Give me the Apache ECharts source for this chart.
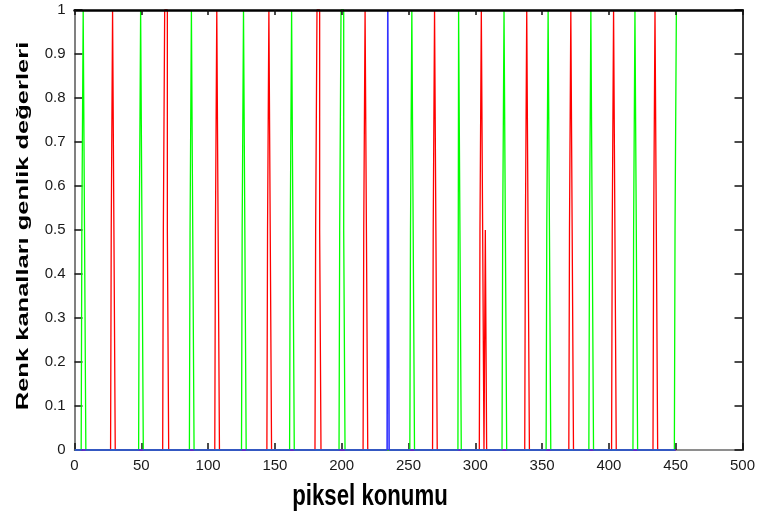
<!DOCTYPE html>
<html>
<head>
<meta charset="utf-8">
<script src="https://cdn.jsdelivr.net/npm/echarts@6/dist/echarts.min.js"></script>
<style>
  html, body { margin: 0; padding: 0; background: #ffffff; }
  #chart { width: 763px; height: 518px; }
</style>
</head>
<body>
<div id="chart"></div>
<script>
// Axis ticks
const xTicks = [0, 50, 100, 150, 200, 250, 300, 350, 400, 450, 500];
const yTicks = [0, 0.1, 0.2, 0.3, 0.4, 0.5, 0.6, 0.7, 0.8, 0.9, 1];

// Channel amplitudes along the pixel row: [pixel position, amplitude]
const redPoints = [
  [0, 0],
  [27, 0], [28, 0.5], [29, 1], [30, 0.5], [31, 0],
  [66, 0], [67, 0.5], [68, 1], [69, 1], [70, 0.5], [71, 0],
  [105, 0], [106, 0.5], [107, 1], [108, 0.5], [109, 0],
  [144, 0], [145, 0.5], [146, 1], [147, 0.5], [148, 0],
  [180, 0], [181, 0.5], [182, 1], [183, 1], [184, 0.5], [185, 0],
  [216, 0], [217, 0.5], [218, 1], [219, 0.5], [220, 0],
  [268, 0], [269, 0.5], [270, 1], [271, 0.5], [272, 0],
  [303, 0], [304, 0.5], [305, 1], [306, 0.5], [307, 0], [308, 0.5], [309, 0],
  [337, 0], [338, 0.5], [339, 1], [340, 0.5], [341, 0],
  [370, 0], [371, 0.5], [372, 1], [373, 0.5], [374, 0],
  [402, 0], [403, 0.5], [404, 1], [405, 0.5], [406, 0],
  [433, 0], [434, 0.5], [435, 1], [436, 0.5], [437, 0],
  [450, 0]
];

const greenPoints = [
  [0, 0],
  [5, 0], [6, 0.5], [7, 1], [8, 0.5], [9, 0],
  [48, 0], [49, 0.5], [50, 1], [51, 0.5], [52, 0],
  [86, 0], [87, 0.5], [88, 1], [89, 0.5], [90, 0],
  [125, 0], [126, 0.5], [127, 1], [128, 0.5], [129, 0],
  [161, 0], [162, 0.5], [163, 1], [164, 0.5], [165, 0],
  [198, 0], [199, 0.5], [200, 1], [201, 1], [202, 0.5], [203, 0],
  [251, 0], [252, 0.5], [253, 1], [254, 0.5], [255, 0],
  [287, 0], [288, 1], [289, 0.5], [290, 0],
  [320, 0], [321, 0.5], [322, 1], [323, 0.5], [324, 0],
  [353, 0], [354, 0.5], [355, 1], [356, 0.5], [357, 0],
  [385, 0], [386, 0.5], [387, 1], [388, 0.5], [389, 0],
  [418, 0], [419, 0.5], [420, 1], [421, 0.5], [422, 0],
  [449, 0], [450, 0.5], [451, 1]
];

const bluePoints = [
  [0, 0],
  [234, 0], [235, 1], [236, 0],
  [450, 0]
];

const xTitle = 'piksel konumu';
const yTitle = 'Renk kanalları genlik değerleri';

const chart = echarts.init(document.getElementById('chart'), null, { renderer: 'canvas' });

const labelFont = { fontFamily: '"Liberation Sans", Arial, sans-serif', fontSize: 15, color: '#1a1a1a' };

function channel(name, color, points, width) {
  return {
    name: name,
    type: 'line',
    step: 'middle',
    clip: false,
    xAxisIndex: 0,
    yAxisIndex: 0,
    data: points,
    showSymbol: false,
    symbol: 'none',
    animation: false,
    lineStyle: { color: color, width: width },
    emphasis: { disabled: true }
  };
}

chart.setOption({
  backgroundColor: '#ffffff',
  animation: false,
  grid: { left: 74.5, right: 20.5, top: 10, bottom: 68, containLabel: false },
  xAxis: [
    {
      type: 'value', position: 'bottom', min: xTicks[0], max: xTicks[xTicks.length - 1], interval: 50,
      axisLine: { show: true, onZero: false, lineStyle: { color: '#6a6a6a', width: 1.5 } },
      axisTick: { show: true, inside: true, length: 7, lineStyle: { color: '#111', width: 1.5 } },
      axisLabel: Object.assign({ margin: 8 }, labelFont),
      splitLine: { show: false }
    },
    {
      type: 'value', position: 'top', min: xTicks[0], max: xTicks[xTicks.length - 1], interval: 50, z: 5,
      axisLine: { show: true, onZero: false, lineStyle: { color: '#000', width: 2.5 } },
      axisTick: { show: true, inside: true, length: 5, lineStyle: { color: '#111', width: 1.5 } },
      axisLabel: { show: false },
      splitLine: { show: false }
    }
  ],
  yAxis: [
    {
      type: 'value', position: 'left', min: yTicks[0], max: yTicks[yTicks.length - 1], interval: 0.1,
      axisLine: { show: true, onZero: false, lineStyle: { color: '#808080', width: 2 } },
      axisTick: { show: true, inside: true, length: 8, lineStyle: { color: '#111', width: 1.5 } },
      axisLabel: Object.assign({ margin: 9 }, labelFont),
      splitLine: { show: false }
    },
    {
      type: 'value', position: 'right', min: yTicks[0], max: yTicks[yTicks.length - 1], interval: 0.1,
      axisLine: { show: true, onZero: false, lineStyle: { color: '#333', width: 2 } },
      axisTick: { show: true, inside: true, length: 8, lineStyle: { color: '#111', width: 1.5 } },
      axisLabel: { show: false },
      splitLine: { show: false }
    }
  ],
  series: [
    channel('R', '#ff0000', redPoints, 1.3),
    channel('G', '#00ff00', greenPoints, 1.3),
    channel('B', '#3333ff', bluePoints, 1.6)
  ],
  graphic: [
    {
      type: 'text', x: 370, y: 497, scaleX: 0.74,
      style: {
        text: xTitle, font: 'bold 30px "Liberation Sans", Arial, sans-serif',
        fill: '#000', textAlign: 'center', textVerticalAlign: 'middle'
      }
    },
    {
      type: 'text', x: 23, y: 226, rotation: Math.PI / 2, scaleY: 0.68,
      style: {
        text: yTitle, font: 'bold 25.5px "Liberation Sans", Arial, sans-serif',
        fill: '#000', textAlign: 'center', textVerticalAlign: 'middle'
      }
    }
  ]
});
</script>
</body>
</html>
